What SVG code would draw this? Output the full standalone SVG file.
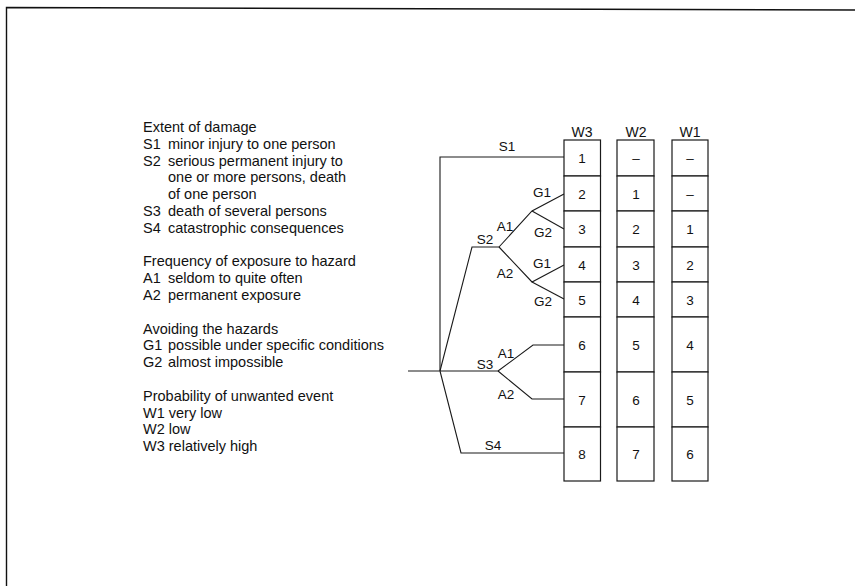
<svg xmlns="http://www.w3.org/2000/svg" width="855" height="586" viewBox="0 0 855 586">
<style>
text{font-family:"Liberation Sans",Arial,Helvetica,sans-serif;fill:#111;}
.lg{font-size:14.5px;}
.lb{font-size:13.5px;text-anchor:middle;}
.num{font-size:13.5px;text-anchor:middle;}
.hd{font-size:14px;text-anchor:middle;}
.ln{fill:none;stroke:#1a1a1a;stroke-width:1.1;}
.box{fill:#fff;stroke:#1a1a1a;stroke-width:1.2;}
.frame{fill:none;stroke:#111;stroke-width:1.4;}
</style>
<rect width="855" height="586" fill="#fff"/>
<path class="frame" d="M6.5,586 V7.5 L855,10"/>

<g id="legend" class="lg">
<text x="143" y="132">Extent of damage</text>
<text x="143" y="148.8">S1</text><text x="168" y="148.8">minor injury to one person</text>
<text x="143" y="165.6">S2</text><text x="168" y="165.6">serious permanent injury to</text>
<text x="168" y="182.4">one or more persons, death</text>
<text x="168" y="199.2">of one person</text>
<text x="143" y="216">S3</text><text x="168" y="216">death of several persons</text>
<text x="143" y="232.8">S4</text><text x="168" y="232.8">catastrophic consequences</text>
<text x="143" y="266.4">Frequency of exposure to hazard</text>
<text x="143" y="283.2">A1</text><text x="168" y="283.2">seldom to quite often</text>
<text x="143" y="300">A2</text><text x="168" y="300">permanent exposure</text>
<text x="143" y="333.6">Avoiding the hazards</text>
<text x="143" y="350.4">G1</text><text x="168" y="350.4">possible under specific conditions</text>
<text x="143" y="367.2">G2</text><text x="168" y="367.2">almost impossible</text>
<text x="143" y="400.8">Probability of unwanted event</text>
<text x="143" y="417.6">W1 very low</text>
<text x="143" y="434.4">W2 low</text>
<text x="143" y="451.2">W3 relatively high</text>
</g>

<g id="connectors" class="ln">
<path d="M408,371 H498"/>
<path d="M440,371 V157 H564"/>
<path d="M440,371 L472,247 H499"/>
<path d="M499,247 L532,211 L564,194"/>
<path d="M532,211 L564,229"/>
<path d="M499,247 L532,282 L564,265"/>
<path d="M532,282 L564,299"/>
<path d="M498,371 L533,345 H564"/>
<path d="M498,371 L532,399 H564"/>
<path d="M440,371 L461,453 H564"/>
</g>

<g id="tree-labels" class="lb">
<text x="507" y="151">S1</text>
<text x="485" y="244">S2</text>
<text x="505" y="231">A1</text>
<text x="505" y="278">A2</text>
<text x="542" y="197">G1</text>
<text x="543" y="237">G2</text>
<text x="542" y="268">G1</text>
<text x="543" y="306">G2</text>
<text x="485" y="369">S3</text>
<text x="506" y="358">A1</text>
<text x="506" y="399">A2</text>
<text x="493" y="450">S4</text>
</g>

<g id="col-W3">
<text class="hd" x="582" y="137">W3</text>
<rect class="box" x="564" y="140" width="36.5" height="36"/>
<rect class="box" x="564" y="176" width="36.5" height="35"/>
<rect class="box" x="564" y="211" width="36.5" height="36"/>
<rect class="box" x="564" y="247" width="36.5" height="35"/>
<rect class="box" x="564" y="282" width="36.5" height="35"/>
<rect class="box" x="564" y="317" width="36.5" height="55"/>
<rect class="box" x="564" y="372" width="36.5" height="55"/>
<rect class="box" x="564" y="427" width="36.5" height="54"/>
<g class="num">
<text x="582" y="163">1</text>
<text x="582" y="198.5">2</text>
<text x="582" y="234">3</text>
<text x="582" y="269.5">4</text>
<text x="582" y="304.5">5</text>
<text x="582" y="349.5">6</text>
<text x="582" y="404.5">7</text>
<text x="582" y="459">8</text>
</g>
</g>

<g id="col-W2">
<text class="hd" x="636" y="137">W2</text>
<rect class="box" x="617" y="140" width="37" height="36"/>
<rect class="box" x="617" y="176" width="37" height="35"/>
<rect class="box" x="617" y="211" width="37" height="36"/>
<rect class="box" x="617" y="247" width="37" height="35"/>
<rect class="box" x="617" y="282" width="37" height="35"/>
<rect class="box" x="617" y="317" width="37" height="55"/>
<rect class="box" x="617" y="372" width="37" height="55"/>
<rect class="box" x="617" y="427" width="37" height="54"/>
<g class="num">
<text x="636" y="163">–</text>
<text x="636" y="198.5">1</text>
<text x="636" y="234">2</text>
<text x="636" y="269.5">3</text>
<text x="636" y="304.5">4</text>
<text x="636" y="349.5">5</text>
<text x="636" y="404.5">6</text>
<text x="636" y="459">7</text>
</g>
</g>

<g id="col-W1">
<text class="hd" x="690" y="137">W1</text>
<rect class="box" x="672" y="140" width="36" height="36"/>
<rect class="box" x="672" y="176" width="36" height="35"/>
<rect class="box" x="672" y="211" width="36" height="36"/>
<rect class="box" x="672" y="247" width="36" height="35"/>
<rect class="box" x="672" y="282" width="36" height="35"/>
<rect class="box" x="672" y="317" width="36" height="55"/>
<rect class="box" x="672" y="372" width="36" height="55"/>
<rect class="box" x="672" y="427" width="36" height="54"/>
<g class="num">
<text x="690" y="163">–</text>
<text x="690" y="198.5">–</text>
<text x="690" y="234">1</text>
<text x="690" y="269.5">2</text>
<text x="690" y="304.5">3</text>
<text x="690" y="349.5">4</text>
<text x="690" y="404.5">5</text>
<text x="690" y="459">6</text>
</g>
</g>
</svg>
